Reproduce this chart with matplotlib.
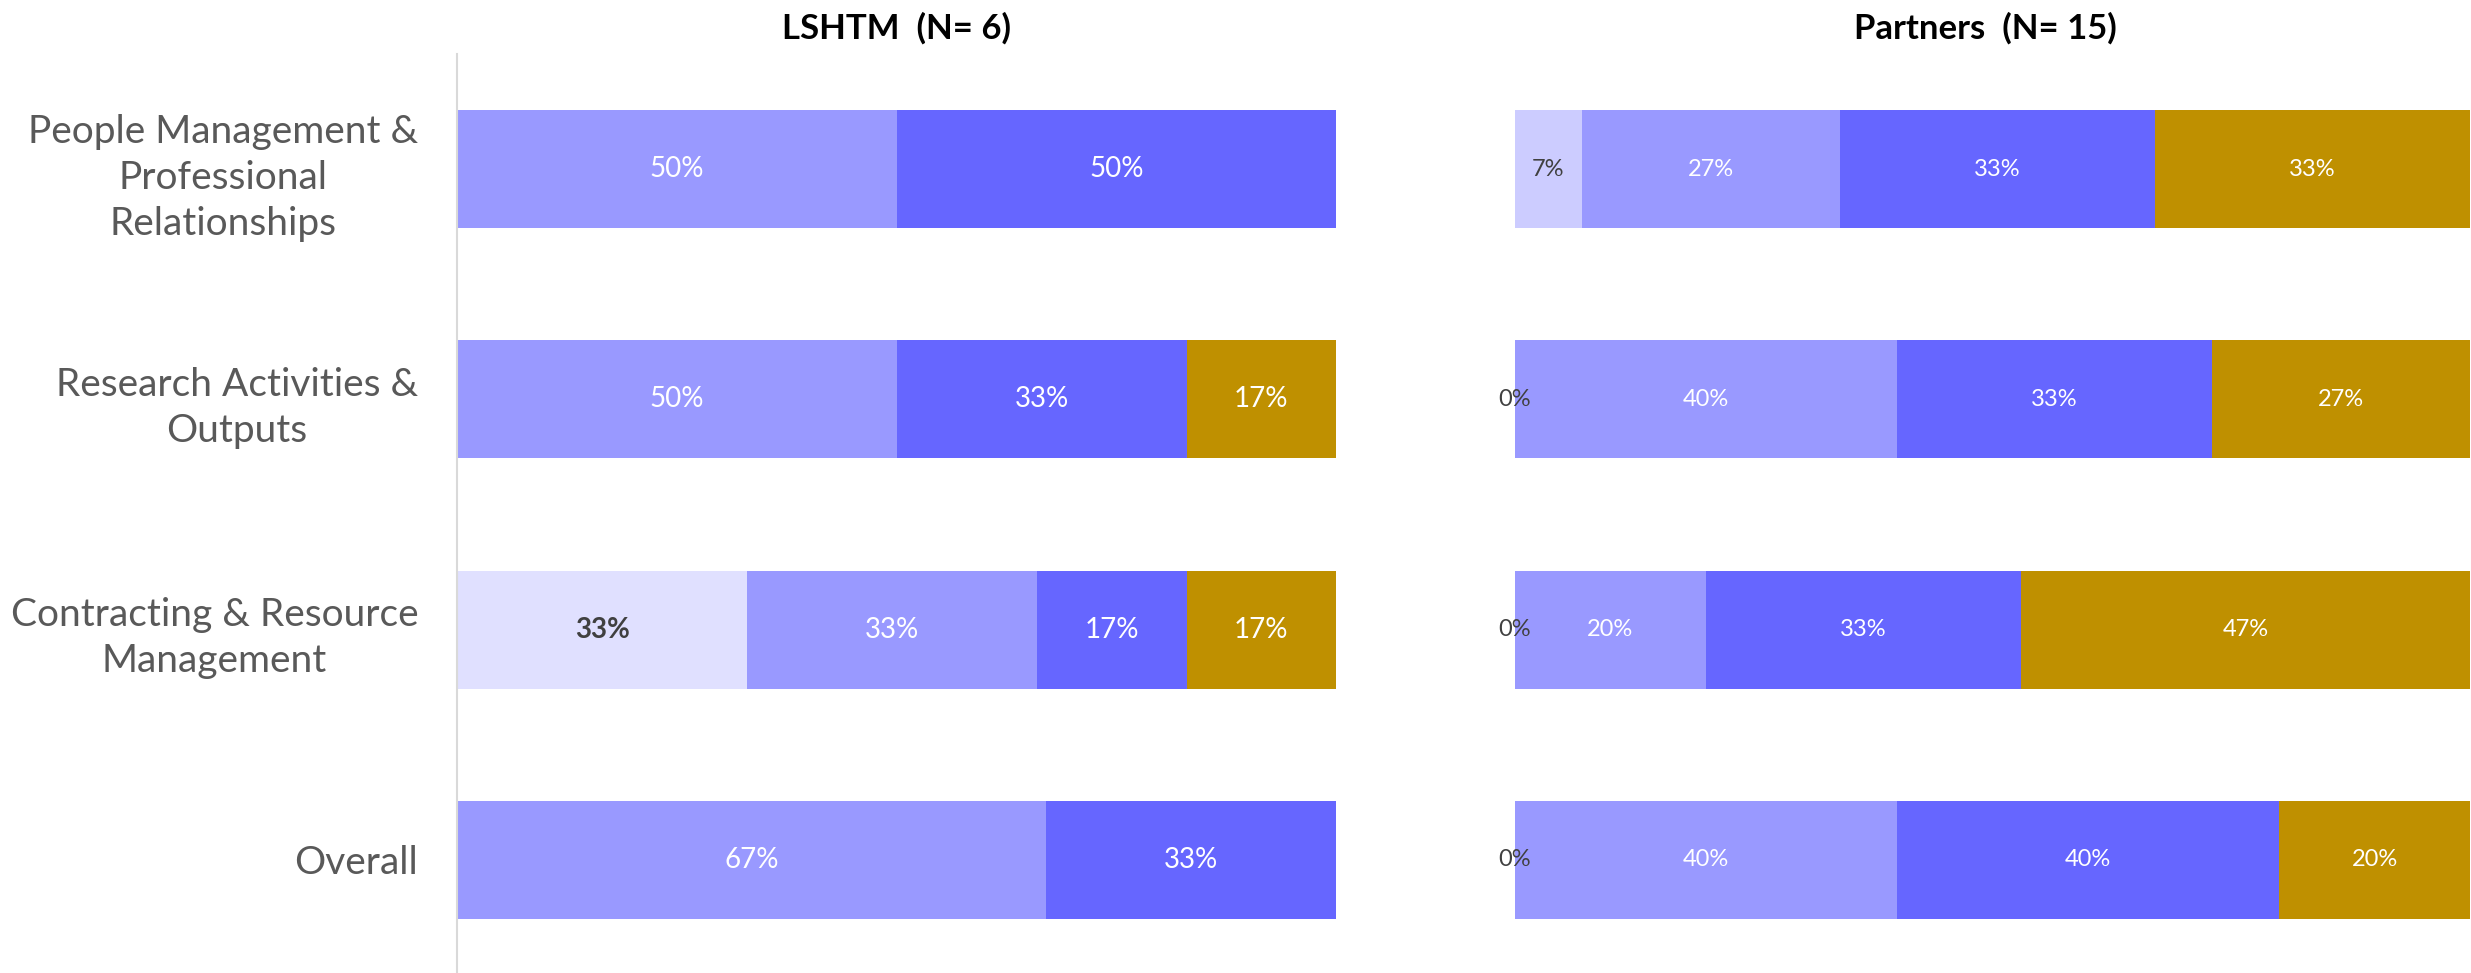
import numpy as np
import matplotlib.pyplot as plt

plt.rcParams['font.family'] = ['Lato', 'DejaVu Sans']

categories = ['People Management &\nProfessional\nRelationships',
              'Research Activities &\nOutputs',
              'Contracting & Resource\nManagement',
              'Overall']

# LSHTM (N= 6), percent of respondents
lshtm_lowest = [0, 0, 33, 0]
lshtm_low = [50, 50, 33, 67]
lshtm_mid = [50, 33, 17, 33]
lshtm_high = [0, 17, 17, 0]

# Partners (N= 15)
partners_lowest = [7, 0, 0, 0]
partners_low = [27, 40, 20, 40]
partners_mid = [33, 33, 33, 40]
partners_high = [33, 27, 47, 20]

fig = plt.figure(figsize=(24.71, 9.73), dpi=100)
ax1 = fig.add_axes([0.185, -0.002, 0.3557, 0.9465])
ax2 = fig.add_axes([0.6131, -0.002, 0.3866, 0.9465])

y = np.arange(len(categories))


def draw(ax, series, colors, txt_colors, weights, size, show_zero):
    left = np.zeros(len(categories))
    for vals, c, tc, w in zip(series, colors, txt_colors, weights):
        vals = np.array(vals, dtype=float)
        bars = ax.barh(y, vals, left=left, height=0.513, color=c, linewidth=0)
        for b, v in zip(bars, vals):
            if v == 0 and not show_zero:
                continue
            ax.text(b.get_x() + b.get_width() / 2, b.get_y() + b.get_height() / 2,
                    f'{v:.0f}%', ha='center', va='center', color=tc,
                    fontsize=size, fontweight=w)
        left += vals
    ax.set_xlim(0, 100)
    ax.set_ylim(3.5, -0.5)
    ax.set_xticks([])
    for s in ['top', 'right', 'bottom']:
        ax.spines[s].set_visible(False)


draw(ax1, [lshtm_lowest, lshtm_low, lshtm_mid, lshtm_high],
     ['#E0E0FF', '#9999FF', '#6666FF', '#BF9000'],
     ['#404040', 'white', 'white', 'white'],
     ['bold', 'normal', 'normal', 'normal'], 20, False)
draw(ax2, [partners_lowest, partners_low, partners_mid, partners_high],
     ['#CCCCFF', '#9999FF', '#6666FF', '#BF9000'],
     ['#404040', 'white', 'white', 'white'],
     ['normal', 'normal', 'normal', 'normal'], 17, True)

ax1.set_yticks(y)
ax1.set_yticklabels(categories, fontsize=28, color='#595959', linespacing=1.35)
for lbl in ax1.get_yticklabels():
    lbl.set_multialignment('center')
ax1.tick_params(axis='y', length=0, pad=28)
ax1.spines['left'].set_color('#D9D9D9')
ax1.spines['left'].set_linewidth(1.5)

ax2.set_yticks([])
ax2.spines['left'].set_visible(False)

fig.text(0.363, 0.971, 'LSHTM  (N= 6)', ha='center', va='center',
         fontsize=25, fontweight='bold', color='black')
fig.text(0.8035, 0.971, 'Partners  (N= 15)', ha='center', va='center',
         fontsize=25, fontweight='bold', color='black')

fig.savefig('out.png', dpi=100)
